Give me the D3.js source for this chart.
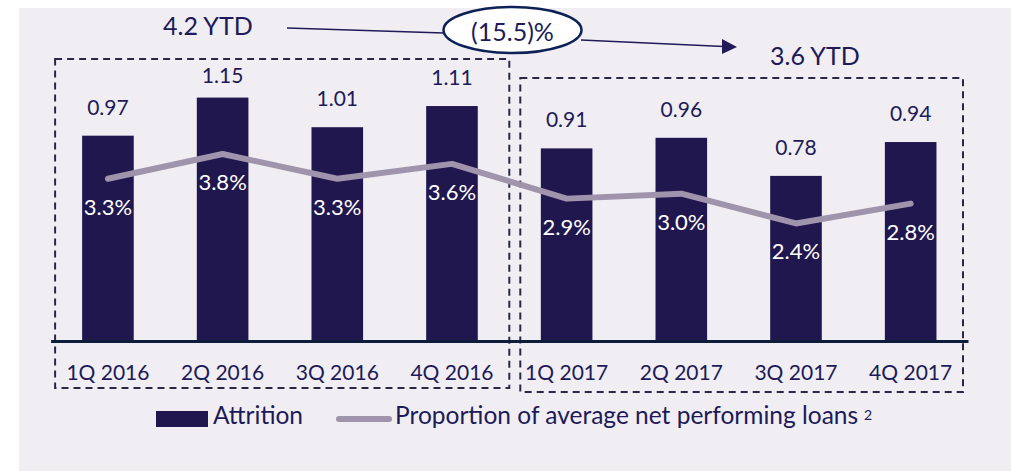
<!DOCTYPE html>
<html>
<head>
<meta charset="utf-8">
<script src="https://cdn.jsdelivr.net/npm/d3@7"></script>
<style>
body { margin: 0; background: #fff; }
text { font-family: Lato, sans-serif; fill: #201a58; }
</style>
</head>
<body>
<div id="chart"></div>
<script>
var quarters = ["1Q 2016", "2Q 2016", "3Q 2016", "4Q 2016", "1Q 2017", "2Q 2017", "3Q 2017", "4Q 2017"];
var attrition = [0.97, 1.15, 1.01, 1.11, 0.91, 0.96, 0.78, 0.94];
var proportion = [3.3, 3.8, 3.3, 3.6, 2.9, 3.0, 2.4, 2.8];
var ytdLabels = ["4.2 YTD", "3.6 YTD"];
var changeLabel = "(15.5)%";
var legendLabels = ["Attrition", "Proportion of average net performing loans"];
var footnote = "2";

var barColor = "#21174f",
    lineColor = "#a094ad",
    textColor = "#201a58";

var width = 1011, height = 471, baseY = 341;

var data = quarters.map(function (q, i) {
    return {q: q, value: attrition[i], pct: proportion[i]};
});

var svg = d3.select("#chart").append("svg")
    .attr("width", width)
    .attr("height", height);

svg.append("rect")
    .attr("x", 19).attr("y", 8)
    .attr("width", width - 19).attr("height", height - 8)
    .attr("fill", "#f0eef2");

var x = d3.scaleBand()
    .domain(quarters)
    .range([50.6, 968])
    .paddingInner(0.55)
    .paddingOuter(0.275);

var y = d3.scaleLinear().domain([0, 1.2]).range([baseY, 87]);
var y2 = d3.scaleLinear().domain([0, 5.15]).range([342.5, 87]);

function cx(d) { return x(d.q) + x.bandwidth() / 2; }

// dashed year boxes
var mid = (x(quarters[3]) + x.bandwidth() + x(quarters[4])) / 2;
var boxes = [
    {x0: x.range()[0] + 4.5, x1: mid, y0: 59, y1: 388},
    {x0: mid + 11, x1: x.range()[1] - 5, y0: 78, y1: 392}
];
svg.selectAll(".box")
    .data(boxes)
    .enter().append("rect")
    .attr("class", "box")
    .attr("x", function (d) { return d.x0; })
    .attr("y", function (d) { return d.y0; })
    .attr("width", function (d) { return d.x1 - d.x0; })
    .attr("height", function (d) { return d.y1 - d.y0; })
    .attr("fill", "none")
    .attr("stroke", "#2a2844")
    .attr("stroke-width", 2)
    .attr("stroke-dasharray", "7,5");

// bars
svg.selectAll(".bar")
    .data(data)
    .enter().append("rect")
    .attr("class", "bar")
    .attr("x", function (d) { return x(d.q); })
    .attr("y", function (d) { return y(d.value); })
    .attr("width", x.bandwidth())
    .attr("height", function (d) { return baseY - y(d.value); })
    .attr("fill", barColor);

svg.selectAll(".val")
    .data(data)
    .enter().append("text")
    .attr("class", "val")
    .attr("x", cx)
    .attr("y", function (d) { return Math.max(y(d.value) - 21, 83); })
    .attr("text-anchor", "middle")
    .style("font-size", "21px")
    .text(function (d) { return d.value.toFixed(2); });

// axis
var axis = svg.append("g")
    .attr("transform", "translate(0," + baseY + ")")
    .call(d3.axisBottom(x).tickSize(0).tickSizeOuter(0).tickPadding(24));
axis.select(".domain").attr("stroke", "#0b1d3a").attr("stroke-width", 3);
axis.selectAll("text")
    .attr("font-family", null)
    .style("font-size", "21px")
    .style("fill", textColor);

// proportion line
var line = d3.line()
    .x(cx)
    .y(function (d) { return y2(d.pct); });

svg.append("path")
    .datum(data)
    .attr("d", line)
    .attr("fill", "none")
    .attr("stroke", lineColor)
    .attr("stroke-width", 6)
    .attr("stroke-linecap", "round")
    .attr("stroke-linejoin", "round");

svg.selectAll(".pct")
    .data(data)
    .enter().append("text")
    .attr("class", "pct")
    .attr("x", cx)
    .attr("y", function (d) { return y2(d.pct) + 36; })
    .attr("text-anchor", "middle")
    .style("font-size", "22px")
    .style("fill", "#ffffff")
    .text(function (d) { return d.pct.toFixed(1) + "%"; });

// YTD annotations
svg.append("text")
    .attr("x", 163).attr("y", 35)
    .style("font-size", "25px")
    .text(ytdLabels[0]);
svg.append("text")
    .attr("x", 770).attr("y", 65)
    .style("font-size", "25px")
    .text(ytdLabels[1]);

svg.append("line")
    .attr("x1", 287).attr("y1", 28)
    .attr("x2", 444).attr("y2", 33)
    .attr("stroke", textColor)
    .attr("stroke-width", 1.5);
svg.append("line")
    .attr("x1", 581).attr("y1", 40)
    .attr("x2", 724).attr("y2", 46.5)
    .attr("stroke", textColor)
    .attr("stroke-width", 1.5);
svg.append("path")
    .attr("d", "M722,39L737,47L722,54Z")
    .attr("fill", textColor);

svg.append("ellipse")
    .attr("cx", 512.5).attr("cy", 30)
    .attr("rx", 69).attr("ry", 23)
    .attr("fill", "#ffffff")
    .attr("stroke", "#0e2156")
    .attr("stroke-width", 2.5);
svg.append("text")
    .attr("x", 512.5).attr("y", 41)
    .attr("text-anchor", "middle")
    .style("font-size", "25px")
    .text(changeLabel);

// legend
var legend = svg.append("g");
legend.append("rect")
    .attr("x", 156).attr("y", 411)
    .attr("width", 52).attr("height", 16)
    .attr("fill", barColor);
legend.append("text")
    .attr("x", 213).attr("y", 424)
    .style("font-size", "24.5px")
    .text(legendLabels[0]);
legend.append("line")
    .attr("x1", 339).attr("y1", 419)
    .attr("x2", 389).attr("y2", 419)
    .attr("stroke", lineColor)
    .attr("stroke-width", 6)
    .attr("stroke-linecap", "round");
var lt = legend.append("text")
    .attr("x", 395).attr("y", 424)
    .style("font-size", "24.5px")
    .text(legendLabels[1]);
lt.append("tspan")
    .attr("dx", 6).attr("dy", -4)
    .style("font-size", "14px")
    .text(footnote);
</script>
</body>
</html>
